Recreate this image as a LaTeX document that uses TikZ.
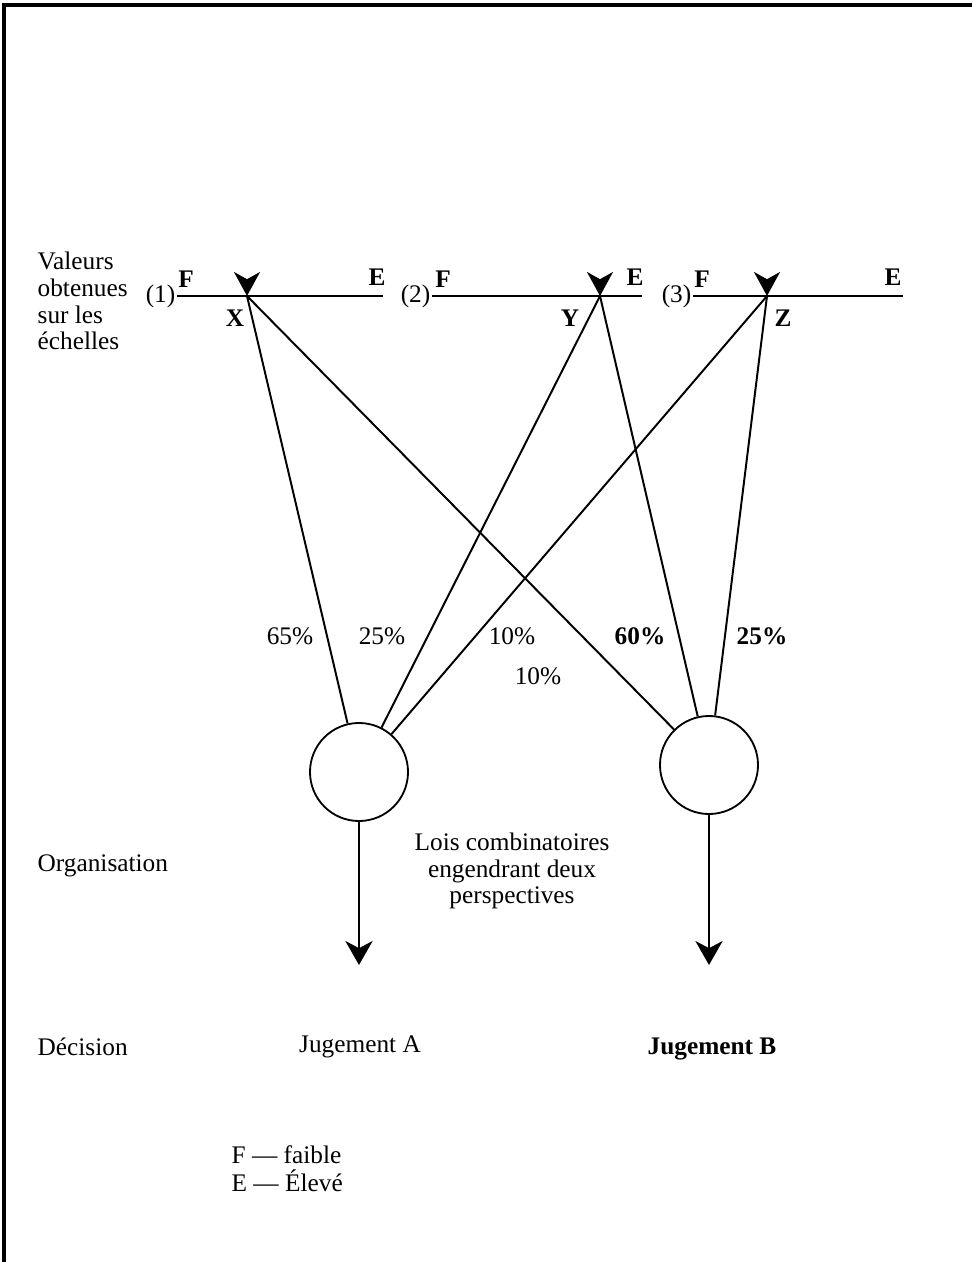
\documentclass[tikz,border=0pt]{standalone}
\usepackage{fontspec}
\setmainfont{Liberation Serif}
\usetikzlibrary{arrows.meta}

\begin{document}
\begin{tikzpicture}[x=0.025cm, y=-0.025cm,
    every node/.style={font=\fontsize{18}{19}\selectfont, inner sep=1pt},
    scaleline/.style={line width=1.8pt},
    link/.style={line width=1.4pt},
    valtip/.style={-{Stealth[length=0.6cm, width=0.65cm, inset=0.18cm]},
        line width=1.4pt},
    downarrow/.style={line width=1.4pt,
        -{Stealth[length=0.6cm, width=0.68cm, inset=0.18cm]}},
    org/.style={draw, circle, line width=1.3pt, minimum size=2.45cm,
        inner sep=0pt}]
    \useasboundingbox (0, 0) rectangle (972, 1262);
    \draw[line width=2.2pt] (4, 1262) -- (4, 5) -- (972, 5);

    % the three scales
    \coordinate (s1a) at (177, 296);
    \coordinate (s1b) at (383, 296);
    \coordinate (s2a) at (432, 296);
    \coordinate (s2b) at (642, 296);
    \coordinate (s3a) at (693, 296);
    \coordinate (s3b) at (903, 296);
    \coordinate (X) at (247, 296);
    \coordinate (Y) at (600, 296);
    \coordinate (Z) at (767, 296);
    \draw[scaleline] (s1a) -- (s1b);
    \draw[scaleline] (s2a) -- (s2b);
    \draw[scaleline] (s3a) -- (s3b);
    \draw[valtip] ([yshift=0.4cm]X) -- (X);
    \draw[valtip] ([yshift=0.4cm]Y) -- (Y);
    \draw[valtip] ([yshift=0.4cm]Z) -- (Z);

    \node[anchor=east] (num1) at (s1a) {(1)};
    \node[anchor=east] (num2) at (s2a) {(2)};
    \node[anchor=east] (num3) at (s3a) {(3)};
    \node (f1) at (186, 279) {\textbf{F}};
    \node (e1) at (377, 277) {\textbf{E}};
    \node (f2) at (443, 279) {\textbf{F}};
    \node (e2) at (635, 277) {\textbf{E}};
    \node (f3) at (702, 279) {\textbf{F}};
    \node (e3) at (893, 277) {\textbf{E}};
    \node (xlab) at (235, 318) {\textbf{X}};
    \node (ylab) at (570, 318) {\textbf{Y}};
    \node (zlab) at (783, 318) {\textbf{Z}};

    % organisation
    \node[org] (orgA) at (359, 772) {};
    \node[org] (orgB) at (709, 765) {};
    \draw[link] (X) -- (orgA);
    \draw[link] (Y) -- (orgA);
    \draw[link] (Z) -- (orgA);
    \draw[link] (X) -- (orgB);
    \draw[link] (Y) -- (orgB);
    \draw[link] (Z) -- (orgB);
    \node (p1) at (290, 636) {65\%};
    \node (p2) at (382, 636) {25\%};
    \node (p3) at (512, 636) {10\%};
    \node (p4) at (538, 676) {10\%};
    \node (p5) at (640, 636) {\textbf{60\%}};
    \node (p6) at (762, 636) {\textbf{25\%}};

    % decisions
    \coordinate (tipA) at (359, 965);
    \coordinate (tipB) at (709, 965);
    \draw[downarrow] (orgA) -- (tipA);
    \draw[downarrow] (orgB) -- (tipB);

    \node[anchor=west, align=left] (valeurs) at (36, 301)
        {Valeurs\\obtenues\\sur les\\échelles};
    \node[anchor=west] (organisation) at (36, 866) {Organisation};
    \node[align=center] (lois) at (512, 871)
        {Lois combinatoires\\engendrant deux\\perspectives};
    \node[anchor=west] (decision) at (36, 1047) {Décision};
    \node (jugA) at (360, 1047) {Jugement A};
    \node (jugB) at (712, 1049) {\textbf{Jugement B}};
    \node[anchor=west] (legF) at (230, 1155) {F --- faible};
    \node[anchor=west] (legE) at (230, 1181) {E --- Élevé};
\end{tikzpicture}
\end{document}
